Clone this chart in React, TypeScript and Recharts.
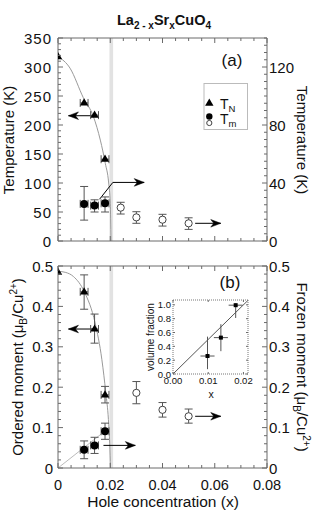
import React from 'react';
import {
  ComposedChart,
  Scatter,
  Line,
  XAxis,
  YAxis,
  ErrorBar,
  ReferenceArea,
} from 'recharts';

const FONT = '"Liberation Sans", Arial, Helvetica, sans-serif';
const FRAME = '#6a6a6a';
const ERR = '#555';
const FIT = '#9a9a9a';

// axis tick labels
const xLabels = [0, 0.02, 0.04, 0.06, 0.08];
const tempLabels = [0, 50, 100, 150, 200, 250, 300, 350];
const tempRightLabels = [0, 40, 80, 120];
const momentLabels = [0, 0.1, 0.2, 0.3, 0.4, 0.5];
const insetXLabels = [0, 0.01, 0.02];
const insetYLabels = [0, 0.2, 0.4, 0.6, 0.8, 1.0];

// (a) Neel temperature T_N (left axis, K)
const tnX = [0, 0.01, 0.014, 0.018];
const tnT = [318, 238, 217, 141];
const tnXErr = [null, 0.0015, 0.0015, 0.0015];
// (a) T_m filled circles (right axis, K)
const tmX = [0.01, 0.014, 0.018];
const tmT = [25.6, 24.4, 26];
const tmLo = [14.4, 20, 20];
const tmHi = [37.6, 28.4, 30.4];
// (a) T_m open circles (right axis, K)
const tmOpenX = [0.024, 0.03, 0.04, 0.05];
const tmOpenT = [23, 16.3, 14.7, 12.2];
const tmOpenLo = [18.6, 12.2, 10.3, 8];
const tmOpenHi = [26.7, 20.2, 18.4, 16];
// (a) guide curve through T_N
const tnFitX = [0, 0.0046, 0.0097, 0.0136, 0.0162, 0.0181, 0.0194, 0.02, 0.0203];
const tnFitT = [318, 298, 247, 214, 174, 134, 100, 65, 0];

// (b) ordered moment (left axis)
const moX = [0, 0.01, 0.014, 0.018];
const moM = [0.485, 0.436, 0.344, 0.181];
const moLo = [null, 0.393, 0.309, 0.161];
const moHi = [null, 0.478, 0.381, 0.202];
// (b) frozen moment filled (right axis)
const frX = [0.01, 0.014, 0.018];
const frM = [0.045, 0.056, 0.091];
const frLo = [0.023, 0.036, 0.071];
const frHi = [0.067, 0.076, 0.111];
// (b) frozen moment open
const frOpenX = [0.03, 0.04, 0.05];
const frOpenM = [0.186, 0.144, 0.128];
const frOpenLo = [0.159, 0.126, 0.111];
const frOpenHi = [0.214, 0.162, 0.146];
// (b) guide curves
const moFitX = [0, 0.003, 0.0059, 0.0101, 0.0142, 0.0168, 0.0183, 0.0193, 0.0198, 0.0201];
const moFitM = [0.487, 0.484, 0.474, 0.436, 0.359, 0.268, 0.186, 0.12, 0.06, 0];
const frFitX = [0, 0.0183];
const frFitM = [0, 0.093];

// inset: volume fraction
const vfX = [0.0098, 0.0136, 0.0178];
const vfY = [0.26, 0.526, 0.995];
const vfLo = [0.07, 0.33, 0.81];
const vfHi = [0.54, 0.72, 1.02];
const vfXErr = [0.002, 0.002, 0.002];
const vfFitX = [0, 0.0213];
const vfFitY = [0, 1.065];

// arrows (data coords, last point is the head)
const arrTnX = [0.0142, 0.004];
const arrTnY = [216, 216];
const arrTmX = [0.0159, 0.021, 0.033];
const arrTmY = [72, 101, 101];
const arrOpenX = [0.0525, 0.0623];
const arrOpenTopY = [30.5, 30.5];
const arrMoX = [0.0142, 0.004];
const arrMoY = [0.344, 0.344];
const arrFrX = [0.0174, 0.0296];
const arrFrY = [0.056, 0.056];
const arrOpenBotY = [0.128, 0.128];

const range = (a: number, b: number, s: number) => {
  const out: number[] = [];
  for (let i = 0; a + i * s <= b + s / 1000; i++) out.push(+(a + i * s).toFixed(6));
  return out;
};

const pts = (xs: number[], ys: number[], lo?: (number | null)[], hi?: (number | null)[], ex?: (number | null)[]) =>
  xs.map((x, i) => ({
    x,
    y: ys[i],
    ey: lo && hi && lo[i] != null && hi[i] != null ? [ys[i] - (lo[i] as number), (hi[i] as number) - ys[i]] : null,
    ex: ex ? ex[i] : null,
  }));

const arrow = (xs: number[], ys: number[], head: 'left' | 'right') =>
  xs.map((x, i) => ({ x, y: ys[i], head: i === xs.length - 1 ? head : null }));

type Side = 'left' | 'right' | 'top' | 'bottom';
interface TickOpts {
  side: Side;
  labels: number[];
  fmt?: (v: number) => string;
  fontSize?: number;
  major?: number;
  minor?: number;
  gap?: number;
  spacing?: number;
}

function makeTick(o: TickOpts) {
  return (p: any) => {
    const v = Number(p.payload.value);
    const isMajor = o.labels.some((l) => Math.abs(l - v) < 1e-9);
    const len = isMajor ? o.major ?? 5 : o.minor ?? 3;
    const { x, y } = p;
    const fs = o.fontSize ?? 15;
    const gap = o.gap ?? 5;
    const txt = isMajor && o.fmt ? o.fmt(v) : null;
    const ts = { fontSize: fs, fontFamily: FONT, fill: '#111', letterSpacing: o.spacing ?? 0 };
    let l = [x, y, x, y];
    let label = null;
    if (o.side === 'left') {
      l = [x, y, x + len, y];
      if (txt) label = <text x={x - gap} y={y} textAnchor="end" dominantBaseline="central" style={ts}>{txt}</text>;
    } else if (o.side === 'right') {
      l = [x, y, x - len, y];
      if (txt) label = <text x={x + gap} y={y} textAnchor="start" dominantBaseline="central" style={ts}>{txt}</text>;
    } else if (o.side === 'bottom') {
      l = [x, y, x, y - len];
      if (txt) label = <text x={x} y={y + gap} textAnchor="middle" style={ts}>{txt}</text>;
    } else {
      l = [x, y, x, y + len];
    }
    return (
      <g>
        {len > 0 && <line x1={l[0]} y1={l[1]} x2={l[2]} y2={l[3]} stroke={FRAME} strokeWidth={1} />}
        {label}
      </g>
    );
  };
}

const axisCommon = {
  tickSize: 0,
  tickMargin: 0,
  tickLine: false,
  interval: 0 as const,
  allowDataOverflow: true,
  axisLine: { stroke: FRAME, strokeWidth: 1 },
};

const Triangle = (p: any) => {
  const { cx, cy } = p;
  if (cx == null) return <g />;
  return <polygon points={`${cx},${cy - 4.6} ${cx + 4.2},${cy + 2.6} ${cx - 4.2},${cy + 2.6}`} fill="#000" />;
};
const Dot = (p: any) => (p.cx == null ? <g /> : <circle cx={p.cx} cy={p.cy} r={4} fill="#000" />);
const OpenDot = (p: any) =>
  p.cx == null ? <g /> : <circle cx={p.cx} cy={p.cy} r={3.6} fill="#fff" stroke="#444" strokeWidth={1} />;
const Square = (p: any) => (p.cx == null ? <g /> : <rect x={p.cx - 2} y={p.cy - 2} width={4} height={4} fill="#000" />);

const arrowDot = (p: any) => {
  const { cx, cy, payload, index } = p;
  if (!payload || !payload.head) return <g key={`a${index}`} />;
  const s = payload.head === 'left' ? 1 : -1;
  const d = `M${cx},${cy} L${cx + s * 10},${cy - 3.8} L${cx + s * 7},${cy} L${cx + s * 10},${cy + 3.8} Z`;
  return <path key={`a${index}`} d={d} fill="#000" stroke="#000" strokeWidth={0.5} />;
};

const xMinor = range(0, 0.08, 0.005);
const sub = { fontSize: 10 };

function TopPanel() {
  return (
    <ComposedChart width={319} height={250} margin={{ top: 37, right: 0, bottom: 0, left: 0 }}>
      <XAxis xAxisId="b" type="number" dataKey="x" domain={[0, 0.08]} ticks={xMinor} height={9}
        tick={makeTick({ side: 'bottom', labels: xLabels })} {...axisCommon} />
      <XAxis xAxisId="t" orientation="top" type="number" dataKey="x" domain={[0, 0.08]} ticks={xMinor} height={1}
        tick={makeTick({ side: 'top', labels: xLabels })} {...axisCommon} />
      <YAxis yAxisId="l" type="number" domain={[0, 350]} ticks={range(0, 350, 10)} width={58}
        tick={makeTick({ side: 'left', labels: tempLabels, fmt: (v) => String(v), spacing: 1, gap: 6 })} {...axisCommon} />
      <YAxis yAxisId="r" orientation="right" type="number" domain={[0, 140]} ticks={range(0, 140, 5)} width={52}
        tick={makeTick({ side: 'right', labels: tempRightLabels, fmt: (v) => String(v), gap: 2 })} {...axisCommon} />
      <ReferenceArea xAxisId="b" yAxisId="l" x1={0.0197} x2={0.0211} fill="#e2e2e2" fillOpacity={1} stroke="none" />
      <Line xAxisId="b" yAxisId="l" data={pts(tnFitX, tnFitT)} dataKey="y" type="monotone" stroke={FIT}
        strokeWidth={1} dot={false} isAnimationActive={false} />
      <Line xAxisId="b" yAxisId="l" data={arrow(arrTnX, arrTnY, 'left')} dataKey="y" type="linear" stroke="#000"
        strokeWidth={1} dot={arrowDot} isAnimationActive={false} />
      <Line xAxisId="b" yAxisId="l" data={arrow(arrTmX, arrTmY, 'right')} dataKey="y" type="linear" stroke="#000"
        strokeWidth={1} dot={arrowDot} isAnimationActive={false} />
      <Line xAxisId="b" yAxisId="l" data={arrow(arrOpenX, arrOpenTopY, 'right')} dataKey="y" type="linear" stroke="#000"
        strokeWidth={1} dot={arrowDot} isAnimationActive={false} />
      <Scatter xAxisId="b" yAxisId="l" data={pts(tnX, tnT, undefined, undefined, tnXErr)} dataKey="y" shape={Triangle} isAnimationActive={false}>
        <ErrorBar dataKey="ex" direction="x" width={4} stroke={ERR} strokeWidth={1} />
      </Scatter>
      <Scatter xAxisId="b" yAxisId="r" data={pts(tmX, tmT, tmLo, tmHi, [0.0015, 0.0015, 0.0015])} dataKey="y" shape={Dot} isAnimationActive={false}>
        <ErrorBar dataKey="ey" direction="y" width={4} stroke={ERR} strokeWidth={1} />
        <ErrorBar dataKey="ex" direction="x" width={4} stroke={ERR} strokeWidth={1} />
      </Scatter>
      <Scatter xAxisId="b" yAxisId="r" data={pts(tmOpenX, tmOpenT, tmOpenLo, tmOpenHi)} dataKey="y" shape={OpenDot} isAnimationActive={false}>
        <ErrorBar dataKey="ey" direction="y" width={4} stroke={ERR} strokeWidth={1} />
      </Scatter>
    </ComposedChart>
  );
}

function BottomPanel() {
  return (
    <ComposedChart width={319} height={269} margin={{ top: 15, right: 0, bottom: 0, left: 0 }}>
      <XAxis xAxisId="b" type="number" dataKey="x" domain={[0, 0.08]} ticks={xMinor} height={51}
        tick={makeTick({ side: 'bottom', labels: xLabels, fmt: (v) => (v === 0 ? '0' : v.toFixed(2)), gap: 22, fontSize: 14.5 })} {...axisCommon} />
      <XAxis xAxisId="t" orientation="top" type="number" dataKey="x" domain={[0, 0.08]} ticks={xMinor} height={1}
        tick={makeTick({ side: 'top', labels: xLabels })} {...axisCommon} />
      <YAxis yAxisId="l" type="number" domain={[0, 0.5]} ticks={range(0, 0.5, 0.02)} width={58}
        tick={makeTick({ side: 'left', labels: momentLabels, fmt: (v) => (v === 0 ? '0' : v.toFixed(1)), gap: 5 })} {...axisCommon} />
      <YAxis yAxisId="r" orientation="right" type="number" domain={[0, 0.5]} ticks={range(0, 0.5, 0.02)} width={52}
        tick={makeTick({ side: 'right', labels: momentLabels, fmt: (v) => (v === 0 ? '0' : v.toFixed(1)), gap: 2 })} {...axisCommon} />
      <ReferenceArea xAxisId="b" yAxisId="l" x1={0.0197} x2={0.0211} fill="#e2e2e2" fillOpacity={1} stroke="none" />
      <Line xAxisId="b" yAxisId="l" data={pts(moFitX, moFitM)} dataKey="y" type="monotone" stroke={FIT}
        strokeWidth={1} dot={false} isAnimationActive={false} />
      <Line xAxisId="b" yAxisId="l" data={pts(frFitX, frFitM)} dataKey="y" type="linear" stroke="#bbb"
        strokeWidth={1} dot={false} isAnimationActive={false} />
      <Line xAxisId="b" yAxisId="l" data={arrow(arrMoX, arrMoY, 'left')} dataKey="y" type="linear" stroke="#000"
        strokeWidth={1} dot={arrowDot} isAnimationActive={false} />
      <Line xAxisId="b" yAxisId="l" data={arrow(arrFrX, arrFrY, 'right')} dataKey="y" type="linear" stroke="#000"
        strokeWidth={1} dot={arrowDot} isAnimationActive={false} />
      <Line xAxisId="b" yAxisId="l" data={arrow(arrOpenX, arrOpenBotY, 'right')} dataKey="y" type="linear" stroke="#000"
        strokeWidth={1} dot={arrowDot} isAnimationActive={false} />
      <Scatter xAxisId="b" yAxisId="l" data={pts(moX, moM, moLo, moHi, tnXErr)} dataKey="y" shape={Triangle} isAnimationActive={false}>
        <ErrorBar dataKey="ey" direction="y" width={4} stroke={ERR} strokeWidth={1} />
        <ErrorBar dataKey="ex" direction="x" width={4} stroke={ERR} strokeWidth={1} />
      </Scatter>
      <Scatter xAxisId="b" yAxisId="r" data={pts(frX, frM, frLo, frHi, [0.0015, 0.0015, 0.0015])} dataKey="y" shape={Dot} isAnimationActive={false}>
        <ErrorBar dataKey="ey" direction="y" width={4} stroke={ERR} strokeWidth={1} />
        <ErrorBar dataKey="ex" direction="x" width={4} stroke={ERR} strokeWidth={1} />
      </Scatter>
      <Scatter xAxisId="b" yAxisId="r" data={pts(frOpenX, frOpenM, frOpenLo, frOpenHi)} dataKey="y" shape={OpenDot} isAnimationActive={false}>
        <ErrorBar dataKey="ey" direction="y" width={4} stroke={ERR} strokeWidth={1} />
      </Scatter>
    </ComposedChart>
  );
}

const insetAxis = { ...axisCommon, axisLine: { stroke: '#777', strokeWidth: 1, strokeDasharray: '1 1' } };

function Inset() {
  return (
    <ComposedChart width={126} height={115} margin={{ top: 9, right: 17, bottom: 0, left: 0 }}>
      <XAxis xAxisId="b" type="number" dataKey="x" domain={[0, 0.0213]} ticks={insetXLabels} height={31}
        tick={makeTick({ side: 'bottom', labels: insetXLabels, fmt: (v) => v.toFixed(2), gap: 10, fontSize: 9.5, major: 2 })} {...insetAxis} />
      <XAxis xAxisId="t" orientation="top" type="number" dataKey="x" domain={[0, 0.0213]} ticks={insetXLabels} height={1}
        tick={makeTick({ side: 'top', labels: insetXLabels, major: 2 })} {...insetAxis} />
      <YAxis yAxisId="l" type="number" domain={[0, 1.07]} ticks={insetYLabels} width={33}
        tick={makeTick({ side: 'left', labels: insetYLabels, fmt: (v) => v.toFixed(1), gap: 2, fontSize: 9.5, major: 2 })} {...insetAxis} />
      <YAxis yAxisId="r" orientation="right" type="number" domain={[0, 1.07]} ticks={insetYLabels} width={1}
        tick={makeTick({ side: 'right', labels: insetYLabels, major: 2 })} {...insetAxis} />
      <Line xAxisId="b" yAxisId="l" data={pts(vfFitX, vfFitY)} dataKey="y" type="linear" stroke="#555"
        strokeWidth={1} dot={false} isAnimationActive={false} />
      <Scatter xAxisId="b" yAxisId="l" data={pts(vfX, vfY, vfLo, vfHi, vfXErr)} dataKey="y" shape={Square} isAnimationActive={false}>
        <ErrorBar dataKey="ey" direction="y" width={0} stroke="#555" strokeWidth={1} />
        <ErrorBar dataKey="ex" direction="x" width={0} stroke="#555" strokeWidth={1} />
      </Scatter>
    </ComposedChart>
  );
}

function Overlay() {
  const t = { fontFamily: FONT, fill: '#111' };
  return (
    <svg width={319} height={519} style={{ position: 'absolute', left: 0, top: 0, pointerEvents: 'none' }}>
      <text x={164} y={25} textAnchor="middle" style={{ ...t, fontSize: 14.5, fontWeight: 'bold' }}>
        La<tspan dy={4} style={sub}>2 - x</tspan>
        <tspan dy={-4}>Sr</tspan>
        <tspan dy={4} style={sub}>x</tspan>
        <tspan dy={-4}>CuO</tspan>
        <tspan dy={4} style={sub}>4</tspan>
      </text>
      <text x={232} y={66} textAnchor="middle" style={{ ...t, fontSize: 17 }}>(a)</text>
      <text x={230} y={288} textAnchor="middle" style={{ ...t, fontSize: 17 }}>(b)</text>

      <rect x={204} y={83.5} width={43.5} height={46} fill="#fff" stroke="#bbb" strokeWidth={1} />
      <polygon points="209.3,98.5 213.5,105.8 205.1,105.8" fill="#000" />
      <text x={220} y={109} style={{ ...t, fontSize: 14 }}>
        T<tspan dy={2.5} style={{ fontSize: 9.5 }}>N</tspan>
      </text>
      <circle cx={209.3} cy={116.5} r={3.2} fill="#000" />
      <circle cx={209.3} cy={123} r={2.6} fill="#fff" stroke="#444" />
      <text x={220} y={124} style={{ ...t, fontSize: 14 }}>
        T<tspan dy={2.5} style={{ fontSize: 9.5 }}>m</tspan>
      </text>

      <text transform="translate(14,140) rotate(-90)" textAnchor="middle" style={{ ...t, fontSize: 15 }}>
        Temperature (K)
      </text>
      <text transform="translate(297,140) rotate(90)" textAnchor="middle" style={{ ...t, fontSize: 15 }}>
        Temperature (K)
      </text>
      <text transform="translate(23,367) rotate(-90)" textAnchor="middle" style={{ ...t, fontSize: 15 }}>
        Ordered moment (μ<tspan dy={4} style={sub}>B</tspan>
        <tspan dy={-4}>/Cu</tspan>
        <tspan dy={-6} style={sub}>2+</tspan>
        <tspan dy={6}>)</tspan>
      </text>
      <text transform="translate(297,367) rotate(90)" textAnchor="middle" style={{ ...t, fontSize: 15 }}>
        Frozen moment (μ<tspan dy={4} style={sub}>B</tspan>
        <tspan dy={-4}>/Cu</tspan>
        <tspan dy={-6} style={sub}>2+</tspan>
        <tspan dy={6}>)</tspan>
      </text>
      <text x={163} y={507} textAnchor="middle" style={{ ...t, fontSize: 15.5 }}>Hole concentration (x)</text>

      <text transform="translate(154,337) rotate(-90)" textAnchor="middle" style={{ ...t, fontSize: 10 }}>
        volume fraction
      </text>
      <text x={211} y={398} textAnchor="middle" style={{ ...t, fontSize: 10.5 }}>x</text>
    </svg>
  );
}

export default function App() {
  return (
    <div style={{ position: 'absolute', left: 0, top: 0, width: 319, height: 519, background: '#fff' }}>
      <div style={{ position: 'absolute', left: 0, top: 0 }}>
        <TopPanel />
      </div>
      <div style={{ position: 'absolute', left: 0, top: 250 }}>
        <BottomPanel />
      </div>
      <div style={{ position: 'absolute', left: 140, top: 290 }}>
        <Inset />
      </div>
      <Overlay />
    </div>
  );
}
